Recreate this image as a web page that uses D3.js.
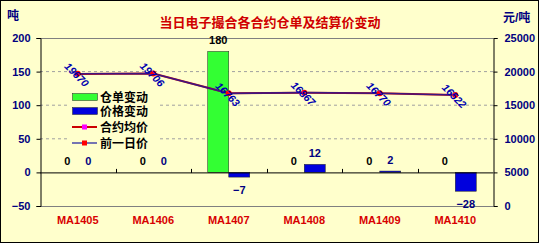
<!DOCTYPE html>
<html>
<head>
<meta charset="utf-8">
<script src="https://cdn.jsdelivr.net/npm/d3@7"></script>
<style>
    body { margin: 0; background: #ffffff; }
    text { font-family: Arial, "Liberation Sans", "Noto Sans CJK SC", sans-serif; }
</style>
</head>
<body>
<div id="chart"></div>
<script>
// chart data
const contracts = ["MA1405", "MA1406", "MA1407", "MA1408", "MA1409", "MA1410"];
const receiptChange = [0, 0, 180, 0, 0, 0];        // 仓单变动 (吨)
const priceChange = [0, 0, -7, 12, 2, -28];         // 价格变动
const avgPrice = [19650, 19700, 16790, 16850, 16790, 16510];   // 合约均价
const prevPrice = [19670, 19706, 16763, 16867, 16770, 16522];  // 前一日价
const leftTicks = [-50, 0, 50, 100, 150, 200];
const rightTicks = [0, 5000, 10000, 15000, 20000, 25000];

class ReceiptChart {

    constructor(parentElement) {
        this.parentElement = parentElement;
        this.initVis();
    }

    initVis() {
        let vis = this;
        vis.width = 542;
        vis.height = 247;
        vis.plot = {left: 40, right: 493, top: 38, bottom: 206};

        vis.svg = d3.select("#" + vis.parentElement).append("svg")
            .attr("width", vis.width)
            .attr("height", vis.height);

        // chart background + frame
        vis.svg.append("rect")
            .attr("x", 0.5).attr("y", 0.5)
            .attr("width", 538).attr("height", 242)
            .attr("fill", "#ffffcc")
            .attr("stroke", "#000");

        vis.x = d3.scaleBand()
            .domain(contracts)
            .range([vis.plot.left, vis.plot.right]);
        vis.xSub = d3.scaleBand()
            .domain(["receipt", "price"])
            .range([vis.x.bandwidth() / 2 - 21, vis.x.bandwidth() / 2 + 21]);
        vis.yL = d3.scaleLinear()
            .domain([-50, 200])
            .range([vis.plot.bottom, vis.plot.top]);
        vis.yR = d3.scaleLinear()
            .domain([0, 25000])
            .range([vis.plot.bottom, vis.plot.top]);

        // title
        vis.svg.append("text")
            .text("当日电子撮合各合约仓单及结算价变动")
            .attr("x", 270).attr("y", 27)
            .attr("text-anchor", "middle")
            .attr("font-size", "13px")
            .attr("font-weight", "bold")
            .attr("fill", "#d00000");

        // units
        vis.svg.append("text")
            .text("吨")
            .attr("x", 7).attr("y", 20)
            .attr("font-size", "12px").attr("font-weight", "bold")
            .attr("fill", "#000080");
        vis.svg.append("text")
            .text("元/吨")
            .attr("x", 503).attr("y", 22)
            .attr("font-size", "12px").attr("font-weight", "bold")
            .attr("fill", "#000080");

        vis.updateVis();
    }

    updateVis() {
        let vis = this;
        let p = vis.plot;

        // gridlines
        vis.svg.append("g")
            .selectAll("line")
            .data([50, 100, 150])
            .join("line")
            .attr("x1", p.left).attr("x2", p.right)
            .attr("y1", d => vis.yL(d)).attr("y2", d => vis.yL(d))
            .attr("stroke", "#a0a0a0")
            .attr("stroke-dasharray", "3,3");

        // top / bottom border of plot area
        vis.svg.append("line")
            .attr("x1", p.left).attr("x2", p.right)
            .attr("y1", p.top + 0.5).attr("y2", p.top + 0.5)
            .attr("stroke", "#808080");
        vis.svg.append("line")
            .attr("x1", p.left).attr("x2", p.right)
            .attr("y1", p.bottom + 0.5).attr("y2", p.bottom + 0.5)
            .attr("stroke", "#808080");

        // left axis
        let leftAxis = d3.axisLeft(vis.yL).tickValues(leftTicks).tickSize(4).tickPadding(6)
            .tickFormat(d => d < 0 ? "\u2212" + (-d) : d);
        let gl = vis.svg.append("g")
            .attr("transform", `translate(${p.left + 0.5},0)`)
            .call(leftAxis);
        // right axis
        let rightAxis = d3.axisRight(vis.yR).tickValues(rightTicks).tickSize(4).tickPadding(7)
            .tickFormat(d3.format("d"));
        let gr = vis.svg.append("g")
            .attr("transform", `translate(${p.right + 0.5},0)`)
            .call(rightAxis);
        [gl, gr].forEach(g => {
            g.selectAll(".domain, line").attr("stroke", "#000");
            g.selectAll("text")
                .attr("font-size", "11px")
                .attr("font-weight", "bold")
                .attr("font-family", "Arial, sans-serif")
                .attr("fill", "#000080");
        });

        // legend background (hides gridlines behind it)
        vis.svg.append("rect")
            .attr("x", 68).attr("y", 89)
            .attr("width", 92).attr("height", 62)
            .attr("fill", "#ffffcc");

        // bars
        let barData = [];
        contracts.forEach((c, i) => {
            barData.push({c: c, key: "receipt", v: receiptChange[i]});
            barData.push({c: c, key: "price", v: priceChange[i]});
        });
        vis.svg.append("g")
            .selectAll("rect")
            .data(barData)
            .join("rect")
            .attr("x", d => vis.x(d.c) + vis.xSub(d.key))
            .attr("width", vis.xSub.bandwidth())
            .attr("y", d => vis.yL(Math.max(0, d.v)))
            .attr("height", d => Math.abs(vis.yL(d.v) - vis.yL(0)))
            .attr("fill", d => d.key === "receipt" ? "#33ff33" : "#0000dd")
            .attr("stroke", d => d.v === 0 ? "none" : "#222")
            .attr("stroke-width", 0.5);

        // category axis at zero
        let y0 = vis.yL(0) + 0.5;
        vis.svg.append("line")
            .attr("x1", p.left).attr("x2", p.right)
            .attr("y1", y0).attr("y2", y0)
            .attr("stroke", "#000");
        vis.svg.append("g")
            .selectAll("line")
            .data(contracts.slice(1))
            .join("line")
            .attr("x1", d => Math.round(vis.x(d)) + 0.5).attr("x2", d => Math.round(vis.x(d)) + 0.5)
            .attr("y1", y0 - 4).attr("y2", y0)
            .attr("stroke", "#000");

        // category labels
        vis.svg.append("g")
            .selectAll("text")
            .data(contracts)
            .join("text")
            .text(d => d)
            .attr("x", d => vis.x(d) + vis.x.bandwidth() / 2)
            .attr("y", 224)
            .attr("text-anchor", "middle")
            .attr("font-size", "11px")
            .attr("font-weight", "bold")
            .attr("fill", "#d80000");

        // bar value labels
        vis.svg.append("g")
            .selectAll("text")
            .data(barData)
            .join("text")
            .text(d => d.v < 0 ? "\u2212" + (-d.v) : d.v)
            .attr("x", d => vis.x(d.c) + vis.xSub(d.key) + vis.xSub.bandwidth() / 2)
            .attr("y", d => d.v < 0 ? vis.yL(d.v) + 17 : vis.yL(d.v) - 7)
            .attr("text-anchor", "middle")
            .attr("font-size", "11px")
            .attr("font-weight", "bold")
            .attr("fill", d => d.key === "receipt" ? "#000" : "#000080");

        // price lines
        let cx = (d, i) => vis.x(contracts[i]) + vis.x.bandwidth() / 2;
        let line = d3.line()
            .x(cx)
            .y(d => vis.yR(d));
        vis.svg.append("path")
            .datum(avgPrice)
            .attr("fill", "none")
            .attr("stroke", "#cc0000")
            .attr("stroke-width", 2)
            .attr("d", line);
        vis.svg.append("path")
            .datum(prevPrice)
            .attr("fill", "none")
            .attr("stroke", "#1a1aa0")
            .attr("stroke-width", 1.6)
            .attr("stroke-opacity", 0.8)
            .attr("d", line);
        vis.svg.append("g")
            .selectAll("rect")
            .data(avgPrice)
            .join("rect")
            .attr("x", (d, i) => cx(d, i) - 2)
            .attr("y", d => vis.yR(d) - 2)
            .attr("width", 4).attr("height", 4)
            .attr("fill", "#ff00ff");
        vis.svg.append("g")
            .selectAll("circle")
            .data(prevPrice)
            .join("circle")
            .attr("cx", cx)
            .attr("cy", d => vis.yR(d))
            .attr("r", 3)
            .attr("fill", "#ff0000");

        // price labels, rotated
        vis.svg.append("g")
            .selectAll("text")
            .data(prevPrice)
            .join("text")
            .text(d => d)
            .attr("transform", (d, i) => `translate(${cx(d, i) - 1},${vis.yR(d) + 1}) rotate(45)`)
            .attr("text-anchor", "middle")
            .attr("dy", "0.35em")
            .attr("font-size", "10.5px")
            .attr("font-weight", "bold")
            .attr("font-style", "italic")
            .attr("fill", "#0000b0");

        // legend
        let legend = vis.svg.append("g");
        let rows = [
            {name: "仓单变动", type: "bar", color: "#33ff33", y: 97},
            {name: "价格变动", type: "bar", color: "#0000dd", y: 111},
            {name: "合约均价", type: "line", color: "#cc0000", marker: "#ff00ff", y: 127},
            {name: "前一日价", type: "line", color: "#1a1aa0", marker: "#ff0000", y: 143}
        ];
        rows.forEach(r => {
            if (r.type === "bar") {
                legend.append("rect")
                    .attr("x", 72.5).attr("y", r.y - 3.5)
                    .attr("width", 25).attr("height", 7)
                    .attr("fill", r.color)
                    .attr("stroke", "#222").attr("stroke-width", 0.5);
            } else {
                legend.append("line")
                    .attr("x1", 72).attr("x2", 97)
                    .attr("y1", r.y).attr("y2", r.y)
                    .attr("stroke", r.color)
                    .attr("stroke-width", r.name === "合约均价" ? 2 : 1.2);
                legend.append("rect")
                    .attr("x", 82).attr("y", r.y - 2.5)
                    .attr("width", 5).attr("height", 5)
                    .attr("fill", r.marker);
            }
            legend.append("text")
                .text(r.name)
                .attr("x", 100).attr("y", r.y + 4.5)
                .attr("font-size", "12px")
                .attr("font-weight", "bold")
                .attr("fill", "#000");
        });
    }
}

new ReceiptChart("chart");
</script>
</body>
</html>
